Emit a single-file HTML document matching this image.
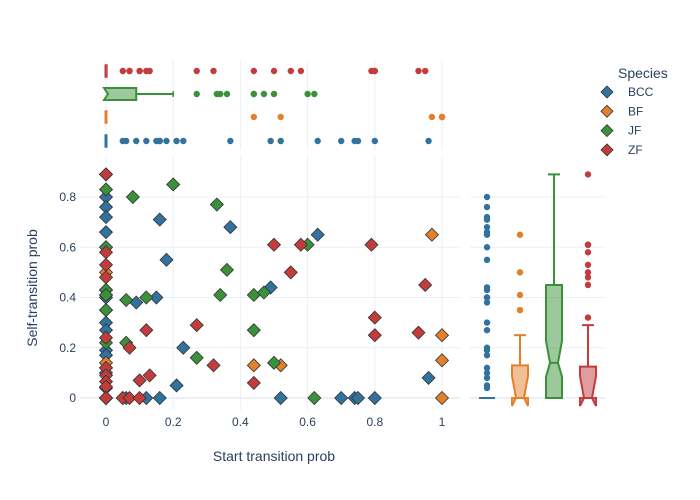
<!DOCTYPE html>
<html><head><meta charset="utf-8">
<style>
body{margin:0;background:#fff;}
svg{display:block;font-family:"Liberation Sans",sans-serif;}
</style></head>
<body>
<svg id="chart" width="700" height="500"></svg>
<script>
const species = ["BCC","BF","JF","ZF"];
const colors = ["#31729f","#e3802b","#3a913a","#c23c3c"];
const bccX = [0,0,0,0,0,0,0,0,0,0,0,0,0,0,0,0,0,0,0.16,0.37,0.18,0.09,0.15,0.49,0.23,0.21,0.63,0.96,0.05,0.06,0.12,0.16,0.52,0.70,0.74,0.75,0.80];
const bccY = [0.80,0.76,0.72,0.66,0.60,0.43,0.40,0.30,0.27,0.19,0.17,0.12,0.10,0.04,0,0,0,0,0.71,0.68,0.55,0.38,0.40,0.44,0.20,0.05,0.65,0.08,0,0,0,0,0,0,0,0,0];
const bfX = [0,0,0,0,0,0,0,0.44,0.52,0.97,1.0,1.0,1.0];
const bfY = [0.50,0.41,0.35,0.14,0,0,0,0.13,0.13,0.65,0.25,0.15,0];
const jfX = [0,0,0,0,0,0,0,0,0,0.20,0.08,0.33,0.36,0.06,0.12,0.34,0.44,0.47,0.44,0.06,0.27,0.50,0.60,0.62];
const jfY = [0.89,0.83,0.60,0.43,0.41,0.35,0.22,0,0,0.85,0.80,0.77,0.51,0.39,0.40,0.41,0.41,0.42,0.27,0.22,0.16,0.14,0.61,0];
const zfX = [0,0,0,0,0,0,0,0,0,0,0.50,0.58,0.79,0.55,0.95,0.80,0.80,0.93,0.27,0.12,0.07,0.32,0.10,0.13,0.44,0.05,0.07,0.10];
const zfY = [0.89,0.58,0.53,0.48,0.24,0.12,0.09,0.065,0.045,0,0.61,0.61,0.61,0.50,0.45,0.32,0.25,0.26,0.29,0.27,0.20,0.13,0.07,0.09,0.06,0,0,0];
// box stats [q1, median, q3, lowerWhisker, upperWhisker]
const boxXStats = [[0,0,0,0,0],[0,0,0,0,0],[0,0,0.09,0,0.20],[0,0,0.005,0,0.005]];
const boxYStats = [[0,0,0,0,0],[0,0,0.13,0,0.25],[0,0.14,0.45,0,0.89],[0,0,0.125,0,0.29]];
const xTicks = [0,0.2,0.4,0.6,0.8,1];
const xTickLabels = ["0","0.2","0.4","0.6","0.8","1"];
const yTicks = [0,0.2,0.4,0.6,0.8];
const yTickLabels = ["0","0.2","0.4","0.6","0.8"];

const xs = v => 106 + v*336;
const ys = v => 398 - v*251.25;
const topRowY = [141,117,94,71];
const rightColX = [487,520,554,588];
const NS="http://www.w3.org/2000/svg";
const svg=document.getElementById('chart');
function mk(tag,attrs,parent){const e=document.createElementNS(NS,tag);for(const k in attrs)e.setAttribute(k,attrs[k]);(parent||svg).appendChild(e);return e;}

const grid=mk('g',{});


xTicks.forEach(t=>{mk('line',{x1:xs(t),x2:xs(t),y1:155,y2:410,stroke:'#ebf0f8','stroke-width':1},grid);mk('line',{x1:xs(t),x2:xs(t),y1:60,y2:150,stroke:'#ebf0f8','stroke-width':1},grid);});
yTicks.forEach(t=>{mk('line',{x1:80,x2:460,y1:ys(t),y2:ys(t),stroke:'#ebf0f8','stroke-width':t===0?2:1},grid);mk('line',{x1:470,x2:605,y1:ys(t),y2:ys(t),stroke:'#ebf0f8','stroke-width':t===0?2:1},grid);});

xTicks.forEach((t,i)=>{const e=mk('text',{x:xs(t),y:426,'text-anchor':'middle','font-size':12,fill:'#2a3f5f'});e.textContent=xTickLabels[i];

});
yTicks.forEach((t,i)=>{const e=mk('text',{x:76,y:ys(t)+4,'text-anchor':'end','font-size':12,fill:'#2a3f5f'});e.textContent=yTickLabels[i];

});
let xt=mk('text',{x:274,y:461,'text-anchor':'middle','font-size':14,fill:'#2a3f5f'});xt.textContent='Start transition prob';


let yt=mk('text',{x:0,y:0,'text-anchor':'middle','font-size':14,fill:'#2a3f5f',transform:'translate(37,288) rotate(-90)'});yt.textContent='Self-transition prob';



const allX=[bccX,bfX,jfX,zfX], allY=[bccY,bfY,jfY,zfY];

function light(c){return c+'80';}
species.forEach((s,i)=>{
  const g=mk('g',{});
  
  
  const [q1,md,q3,lw,uw]=boxXStats[i]; const cy=topRowY[i]; const h=6;
  if(q3-q1>0.02){
    mk('line',{x1:xs(q3),x2:xs(uw),y1:cy,y2:cy,stroke:colors[i],'stroke-width':2},g);
    mk('line',{x1:xs(uw),x2:xs(uw),y1:cy-3,y2:cy+3,stroke:colors[i],'stroke-width':1.5},g);
    mk('path',{d:`M${xs(q1)-2},${cy-h} L${xs(q3)},${cy-h} L${xs(q3)},${cy+h} L${xs(q1)-2},${cy+h} L${xs(md)+2},${cy} Z`,fill:light(colors[i]),stroke:colors[i],'stroke-width':2},g);
  } else {
    const w=Math.max(xs(q3)-xs(q1),1.5);
    mk('rect',{x:xs(q1)-0.75,y:cy-h,width:w,height:2*h,fill:light(colors[i]),stroke:colors[i],'stroke-width':1.5},g);
  }
  allX[i].forEach(v=>{ if(v>uw){const c=mk('circle',{cx:xs(v),cy:cy,r:3.2,fill:colors[i]},g);
    
    }});
});
species.forEach((s,i)=>{
  const g=mk('g',{});
  
  
  const [q1,md,q3,lw,uw]=boxYStats[i]; const cx=rightColX[i]; const hw=8;
  mk('line',{x1:cx,x2:cx,y1:ys(q3),y2:ys(uw),stroke:colors[i],'stroke-width':2},g);
  if(uw>q3) mk('line',{x1:cx-6,x2:cx+6,y1:ys(uw),y2:ys(uw),stroke:colors[i],'stroke-width':2},g);
  if(q3>q1){
    const nb=Math.max(ys(md)+14,0), nt=ys(md)-22;
    const bot=ys(q1);
    mk('path',{d:`M${cx-hw},${ys(q3)} L${cx+hw},${ys(q3)} L${cx+hw},${Math.min(nt,bot)} L${cx+hw/2},${ys(md)} L${cx+hw},${Math.min(nb,bot+8)} L${cx+hw},${bot} L${cx-hw},${bot} L${cx-hw},${Math.min(nb,bot+8)} L${cx-hw/2},${ys(md)} L${cx-hw},${Math.min(nt,bot)} Z`,fill:light(colors[i]),stroke:colors[i],'stroke-width':2},g);
    mk('line',{x1:cx-hw/2,x2:cx+hw/2,y1:ys(md),y2:ys(md),stroke:colors[i],'stroke-width':2},g);
  } else {
    mk('line',{x1:cx-hw,x2:cx+hw,y1:ys(q1),y2:ys(q1),stroke:colors[i],'stroke-width':2},g);
  }
  allY[i].forEach(v=>{ if(v>uw){const c=mk('circle',{cx:cx,cy:ys(v),r:3.2,fill:colors[i]},g);
    
    }});
});

species.forEach((s,i)=>{
  const g=mk('g',{});
  
  
  allX[i].forEach((v,j)=>{
    const x=xs(v), y=ys(allY[i][j]), r=6.5;
    const p=mk('path',{d:`M${x},${y-r} L${x+r},${y} L${x},${y+r} L${x-r},${y} Z`,fill:colors[i],stroke:'#333','stroke-width':0.8},g);
    
    
  });
});

const lg=mk('g',{});


let lt=mk('text',{x:618,y:78,'font-size':14,fill:'#2a3f5f'},lg);lt.textContent='Species';
species.forEach((s,i)=>{
  const y=92+i*19.3;
  const it=mk('g',{},lg);
  
  
  mk('path',{d:`M607,${y-6} L613,${y} L607,${y+6} L601,${y} Z`,fill:colors[i],stroke:'#333','stroke-width':0.8},it);
  const t=mk('text',{x:628,y:y+4,'font-size':12,fill:'#2a3f5f'},it);t.textContent=s;
});
</script>
</body></html>
